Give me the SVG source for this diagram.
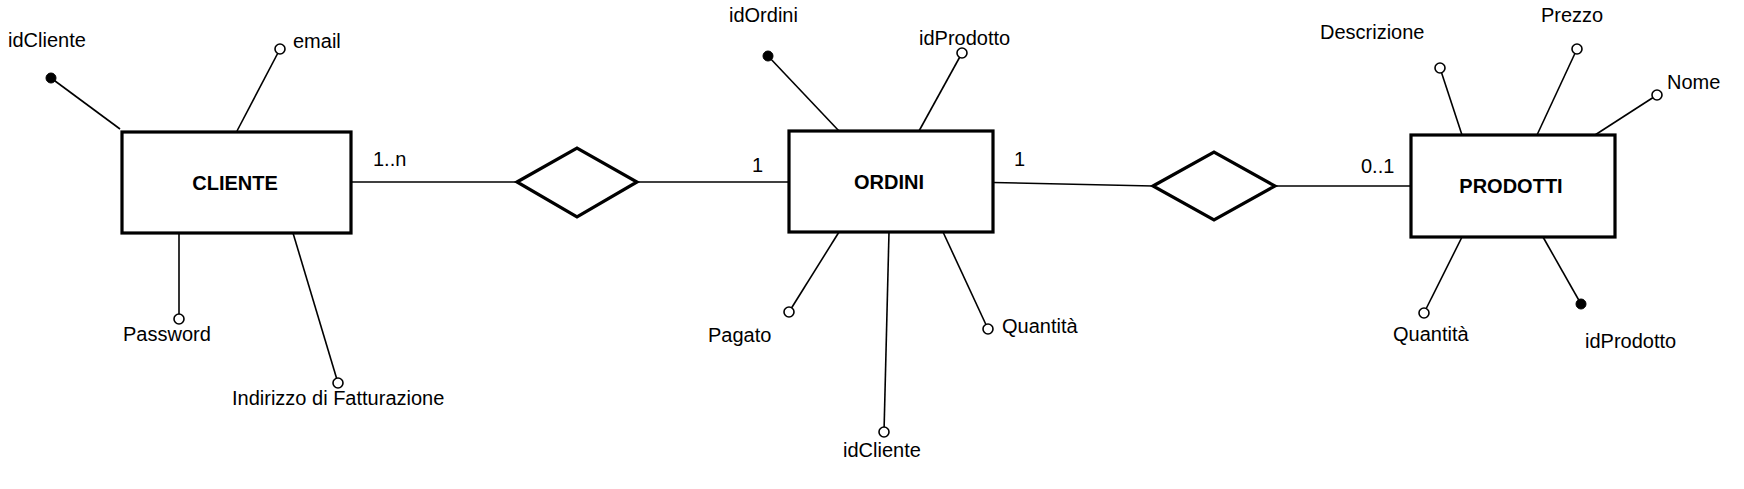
<svg xmlns="http://www.w3.org/2000/svg" width="1744" height="489" viewBox="0 0 1744 489">
<style>
.bg{fill:#ffffff}
.ent{fill:#ffffff;stroke:#000;stroke-width:3.2}
.rel{fill:#ffffff;stroke:#000;stroke-width:3.2;stroke-linejoin:miter}
.ln{stroke:#000;stroke-width:1.6;fill:none}
.att{fill:#ffffff;stroke:#000;stroke-width:1.6}
.key{fill:#000;stroke:#000;stroke-width:1}
.lbl{font-family:"Liberation Sans",Arial,Helvetica,sans-serif;font-size:20px;fill:#000}
.ttl{font-family:"Liberation Sans",Arial,Helvetica,sans-serif;font-size:20px;font-weight:bold;fill:#000;text-anchor:middle}
</style>
<rect class="bg" x="0" y="0" width="1744" height="489"/>

<g id="connectors">
  <line class="ln" x1="351" y1="182" x2="517" y2="182"/>
  <line class="ln" x1="637" y1="182" x2="789" y2="182"/>
  <line class="ln" x1="993" y1="182.5" x2="1153" y2="186"/>
  <line class="ln" x1="1275" y1="186" x2="1411" y2="186"/>
  <text class="lbl" x="373" y="166">1..n</text>
  <text class="lbl" x="752" y="172">1</text>
  <text class="lbl" x="1014" y="166">1</text>
  <text class="lbl" x="1361" y="173">0..1</text>
</g>

<g id="cliente">
  <line class="ln" x1="51" y1="78" x2="120" y2="129"/>
  <line class="ln" x1="280" y1="49" x2="237" y2="131"/>
  <line class="ln" x1="179" y1="233" x2="179" y2="319"/>
  <line class="ln" x1="293" y1="233" x2="338" y2="383"/>
  <rect class="ent" x="122" y="132" width="229" height="101"/>
  <text class="ttl" x="235" y="190">CLIENTE</text>
  <circle class="key" cx="51" cy="78" r="5"/>
  <circle class="att" cx="280" cy="49" r="5"/>
  <circle class="att" cx="179" cy="319" r="5"/>
  <circle class="att" cx="338" cy="383" r="5"/>
  <text class="lbl" x="8" y="47">idCliente</text>
  <text class="lbl" x="293" y="48">email</text>
  <text class="lbl" x="123" y="341">Password</text>
  <text class="lbl" x="232" y="405">Indirizzo di Fatturazione</text>
</g>

<g id="rel-cliente-ordini">
  <polygon class="rel" points="517,182 577,148 637,182 577,217"/>
</g>

<g id="ordini">
  <line class="ln" x1="768" y1="56" x2="839" y2="131"/>
  <line class="ln" x1="962" y1="53" x2="919" y2="131"/>
  <line class="ln" x1="839" y1="232" x2="789" y2="312"/>
  <line class="ln" x1="889" y1="232" x2="884" y2="432"/>
  <line class="ln" x1="943" y1="232" x2="988" y2="329"/>
  <rect class="ent" x="789" y="131" width="204" height="101"/>
  <text class="ttl" x="889" y="189">ORDINI</text>
  <circle class="key" cx="768" cy="56" r="5"/>
  <circle class="att" cx="962" cy="53" r="5"/>
  <circle class="att" cx="789" cy="312" r="5"/>
  <circle class="att" cx="884" cy="432" r="5"/>
  <circle class="att" cx="988" cy="329" r="5"/>
  <text class="lbl" x="729" y="22">idOrdini</text>
  <text class="lbl" x="919" y="45">idProdotto</text>
  <text class="lbl" x="708" y="342">Pagato</text>
  <text class="lbl" x="843" y="457">idCliente</text>
  <text class="lbl" x="1002" y="333">Quantità</text>
</g>

<g id="rel-ordini-prodotti">
  <polygon class="rel" points="1153,186 1214,152 1275,186 1214,220"/>
</g>

<g id="prodotti">
  <line class="ln" x1="1440" y1="68" x2="1462" y2="135"/>
  <line class="ln" x1="1577" y1="49" x2="1537" y2="135"/>
  <line class="ln" x1="1657" y1="95" x2="1595" y2="135"/>
  <line class="ln" x1="1462" y1="237" x2="1424" y2="313"/>
  <line class="ln" x1="1543" y1="237" x2="1581" y2="304"/>
  <rect class="ent" x="1411" y="135" width="204" height="102"/>
  <text class="ttl" x="1511" y="193">PRODOTTI</text>
  <circle class="att" cx="1440" cy="68" r="5"/>
  <circle class="att" cx="1577" cy="49" r="5"/>
  <circle class="att" cx="1657" cy="95" r="5"/>
  <circle class="att" cx="1424" cy="313" r="5"/>
  <circle class="key" cx="1581" cy="304" r="5"/>
  <text class="lbl" x="1320" y="39">Descrizione</text>
  <text class="lbl" x="1541" y="22">Prezzo</text>
  <text class="lbl" x="1667" y="89">Nome</text>
  <text class="lbl" x="1393" y="341">Quantità</text>
  <text class="lbl" x="1585" y="348">idProdotto</text>
</g>
</svg>
